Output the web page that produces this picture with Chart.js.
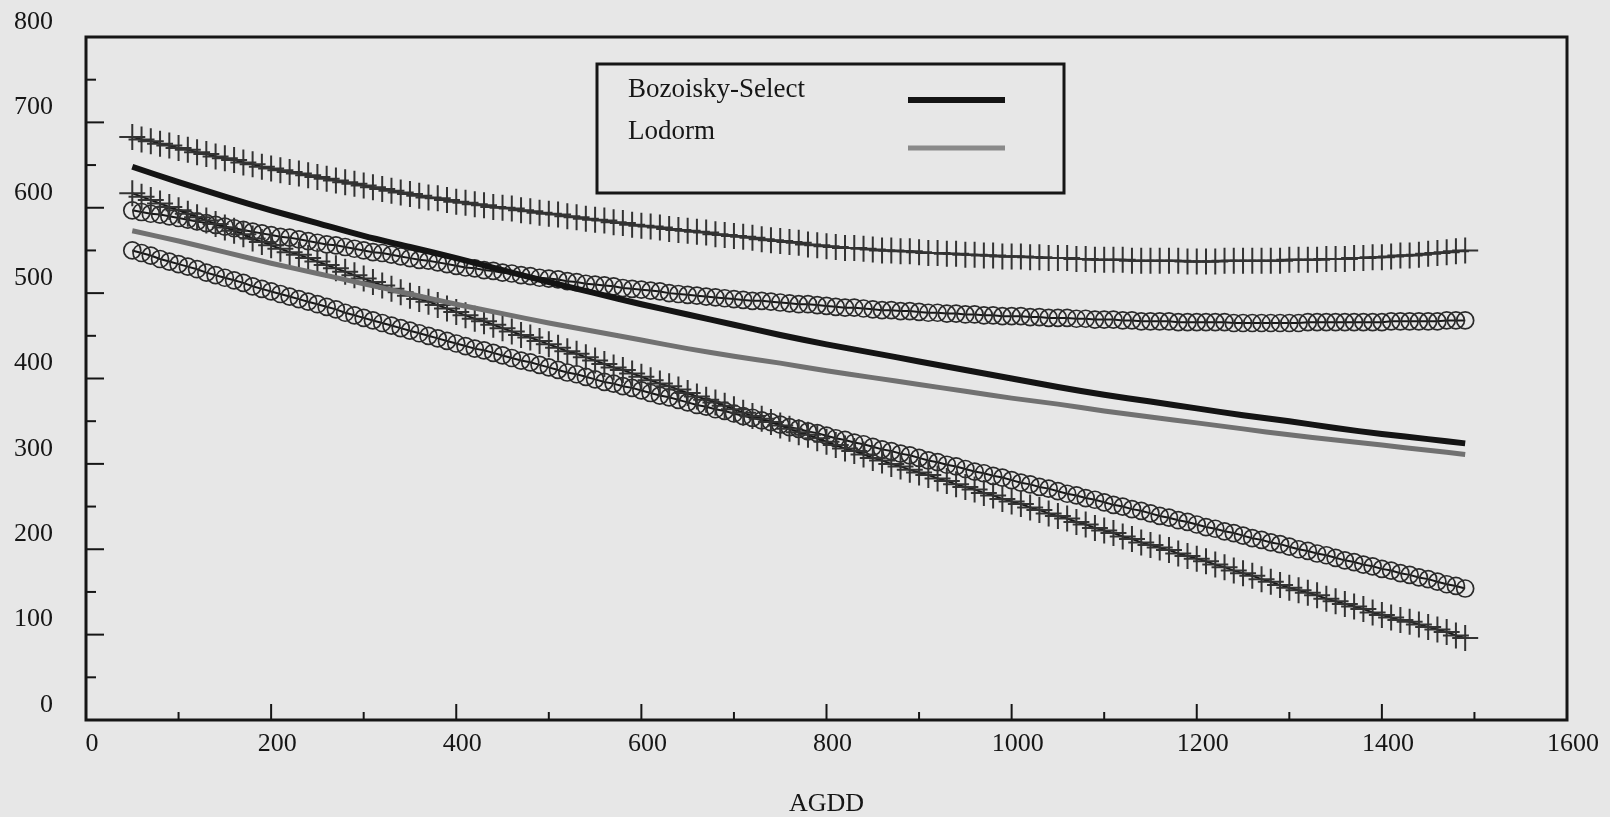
<!DOCTYPE html>
<html>
<head>
<meta charset="utf-8">
<script src="https://cdn.jsdelivr.net/npm/chart.js@4.4.1/dist/chart.umd.min.js"></script>
<style>
  body { margin: 0; background: #e7e7e7; }
  #wrap { width: 1610px; height: 817px; }
</style>
</head>
<body>
<div id="wrap"><canvas id="chart" width="1610" height="817"></canvas></div>
<script>
// AGDD values where the confidence-band markers sit
const agdd = [
  50, 60, 70, 80, 90, 100, 110, 120, 130, 140,
  150, 160, 170, 180, 190, 200, 210, 220, 230, 240,
  250, 260, 270, 280, 290, 300, 310, 320, 330, 340,
  350, 360, 370, 380, 390, 400, 410, 420, 430, 440,
  450, 460, 470, 480, 490, 500, 510, 520, 530, 540,
  550, 560, 570, 580, 590, 600, 610, 620, 630, 640,
  650, 660, 670, 680, 690, 700, 710, 720, 730, 740,
  750, 760, 770, 780, 790, 800, 810, 820, 830, 840,
  850, 860, 870, 880, 890, 900, 910, 920, 930, 940,
  950, 960, 970, 980, 990, 1000, 1010, 1020, 1030, 1040,
  1050, 1060, 1070, 1080, 1090, 1100, 1110, 1120, 1130, 1140,
  1150, 1160, 1170, 1180, 1190, 1200, 1210, 1220, 1230, 1240,
  1250, 1260, 1270, 1280, 1290, 1300, 1310, 1320, 1330, 1340,
  1350, 1360, 1370, 1380, 1390, 1400, 1410, 1420, 1430, 1440,
  1450, 1460, 1470, 1480, 1490
];

// Bozoisky-Select upper / lower band (+ markers)
const bozUpper = [
  683, 680, 678, 675, 673, 670,
  668, 665, 663, 660, 658,
  656, 653, 651, 648, 646,
  644, 642, 640, 638, 636,
  634, 632, 630, 628, 626,
  624, 622, 620, 618, 616,
  614, 612, 611, 609, 607,
  606, 604, 603, 601, 600,
  599, 597, 596, 594, 593,
  592, 590, 589, 587, 586,
  585, 583, 582, 580, 579,
  578, 577, 575, 574, 573,
  572, 571, 569, 568, 567,
  566, 565, 563, 562, 561,
  560, 559, 557, 556, 555,
  554, 553, 553, 552, 551,
  550, 550, 549, 549, 548,
  547, 547, 546, 546, 545,
  545, 544, 544, 543, 543,
  543, 542, 542, 541, 541,
  541, 540, 540, 539, 539,
  539, 539, 538, 538, 538,
  538, 538, 538, 537, 537,
  537, 537, 538, 538, 538,
  538, 538, 538, 538, 539,
  539, 539, 539, 540, 540,
  540, 541, 541, 542, 542,
  543, 544, 544, 545, 546,
  547, 548, 549, 550
];
const bozLower = [
  617, 613, 609, 605, 601, 597,
  593, 589, 585, 581, 577,
  573, 569, 564, 560, 556,
  552, 548, 545, 541, 537,
  533, 529, 525, 521, 517,
  513, 509, 505, 501, 497,
  493, 490, 486, 482, 478,
  474, 470, 467, 463, 459,
  455, 451, 448, 444, 440,
  436, 432, 429, 425, 421,
  417, 413, 410, 406, 402,
  398, 394, 391, 387, 383,
  379, 375, 372, 368, 364,
  360, 356, 353, 349, 345,
  341, 337, 334, 330, 326,
  322, 318, 315, 311, 307,
  304, 300, 297, 293, 290,
  287, 283, 280, 276, 273,
  270, 266, 263, 259, 256,
  253, 249, 246, 242, 239,
  236, 232, 229, 225, 222,
  219, 215, 212, 208, 205,
  202, 199, 195, 192, 189,
  186, 182, 179, 175, 172,
  169, 165, 162, 158, 155,
  152, 149, 146, 142, 139,
  136, 133, 130, 126, 123,
  120, 117, 115, 112, 109,
  106, 103, 99, 96
];

// Lodorm upper / lower band (o markers)
const lodUpper = [
  597, 595, 593, 592, 590, 588,
  586, 584, 582, 580, 578,
  576, 574, 572, 570, 568,
  566, 565, 563, 561, 559,
  557, 556, 554, 552, 550,
  548, 547, 545, 543, 541,
  539, 538, 536, 534, 532,
  530, 529, 527, 526, 524,
  523, 521, 520, 518, 517,
  516, 514, 513, 511, 510,
  509, 508, 506, 505, 504,
  503, 502, 500, 499, 498,
  497, 496, 495, 494, 493,
  492, 491, 491, 490, 489,
  488, 487, 487, 486, 485,
  484, 483, 483, 482, 481,
  480, 480, 479, 479, 478,
  477, 477, 476, 476, 475,
  475, 474, 474, 473, 473,
  473, 472, 472, 471, 471,
  471, 470, 470, 469, 469,
  469, 468, 468, 467, 467,
  467, 467, 466, 466, 466,
  466, 466, 466, 465, 465,
  465, 465, 465, 465, 465,
  465, 466, 466, 466, 466,
  466, 466, 466, 466, 466,
  467, 467, 467, 467, 467,
  467, 468, 468, 468
];
const lodLower = [
  550, 547, 544, 540, 537, 534,
  531, 528, 524, 521, 518,
  515, 512, 508, 505, 502,
  499, 496, 493, 490, 487,
  484, 481, 477, 474, 471,
  468, 465, 462, 459, 456,
  453, 450, 447, 444, 441,
  438, 435, 433, 430, 427,
  424, 421, 419, 416, 413,
  410, 407, 405, 402, 399,
  396, 394, 391, 389, 386,
  383, 380, 378, 375, 372,
  369, 367, 364, 362, 359,
  356, 354, 351, 349, 346,
  343, 341, 338, 336, 333,
  330, 328, 325, 323, 320,
  317, 315, 312, 310, 307,
  304, 302, 299, 297, 294,
  291, 289, 286, 284, 281,
  278, 276, 273, 271, 268,
  265, 263, 260, 258, 255,
  252, 250, 247, 245, 242,
  239, 237, 234, 232, 229,
  226, 224, 221, 219, 216,
  213, 211, 208, 206, 203,
  200, 198, 195, 193, 190,
  187, 185, 182, 180, 177,
  175, 172, 170, 167, 165,
  162, 159, 157, 154
];

// fitted curves
const meanAgdd = [50, 100, 150, 200, 250, 300, 350, 400, 450, 500, 550, 600, 650, 700, 750,
  800, 850, 900, 950, 1000, 1050, 1100, 1150, 1200, 1250, 1300, 1350, 1400, 1450, 1490];
const bozMean = [648, 630, 613, 597, 582, 567, 554, 541, 527, 513, 500, 487, 475, 463, 451,
  440, 430, 420, 410, 400, 390, 381, 373, 365, 357, 350, 342, 335, 329, 324];
const lodMean = [573, 561, 548, 535, 523, 511, 499, 487, 476, 465, 455, 445, 435, 426, 418,
  409, 401, 393, 385, 377, 370, 362, 355, 348, 341, 334, 328, 322, 316, 311];

const seriesNames = ['Bozoisky-Select', 'Lodorm'];
const xMajor = [200, 400, 600, 800, 1000, 1200, 1400];
const xMinor = [100, 300, 500, 700, 900, 1100, 1300, 1500];
const yMajor = [100, 200, 300, 400, 500, 600, 700];
const yMinor = [50, 150, 250, 350, 450, 550, 650, 750];

const ink = '#161616';
const blackLine = '#141414';
const grayLine = '#717171';
const serif = '"Liberation Serif", "Times New Roman", serif';

const pts = (xs, ys) => xs.map((x, i) => ({ x: x, y: ys[i] }));

const paper = {
  id: 'paper',
  beforeDraw(chart) {
    const ctx = chart.ctx;
    ctx.save();
    ctx.fillStyle = '#e7e7e7';
    ctx.fillRect(0, 0, chart.width, chart.height);
    ctx.restore();
  }
};

// frame, inward ticks and the boxed legend
const frame = {
  id: 'frame',
  afterDraw(chart) {
    const ctx = chart.ctx;
    const a = chart.chartArea;
    const sx = chart.scales.x, sy = chart.scales.y;
    ctx.save();
    ctx.strokeStyle = ink;
    ctx.lineWidth = 2;
    yMajor.concat(yMinor).forEach(v => {
      const py = sy.getPixelForValue(v);
      const len = yMajor.includes(v) ? 18 : 10;
      ctx.beginPath(); ctx.moveTo(a.left, py); ctx.lineTo(a.left + len, py); ctx.stroke();
    });
    xMajor.concat(xMinor).forEach(v => {
      const px = sx.getPixelForValue(v);
      const len = xMajor.includes(v) ? 16 : 8;
      ctx.beginPath(); ctx.moveTo(px, a.bottom); ctx.lineTo(px, a.bottom - len); ctx.stroke();
    });
    ctx.lineWidth = 3;
    ctx.strokeRect(a.left, a.top, a.right - a.left, a.bottom - a.top);

    // legend
    ctx.lineWidth = 3;
    ctx.strokeRect(597, 64, 467, 129);
    ctx.fillStyle = '#161616';
    ctx.font = '27px ' + serif;
    ctx.textBaseline = 'alphabetic';
    ctx.fillText(seriesNames[0], 628, 97);
    ctx.fillText(seriesNames[1], 628, 139);
    ctx.lineCap = 'butt';
    ctx.strokeStyle = blackLine; ctx.lineWidth = 6;
    ctx.beginPath(); ctx.moveTo(908, 100); ctx.lineTo(1005, 100); ctx.stroke();
    ctx.strokeStyle = '#8a8a8a'; ctx.lineWidth = 5;
    ctx.beginPath(); ctx.moveTo(908, 148); ctx.lineTo(1005, 148); ctx.stroke();
    ctx.restore();
  }
};

const crossBand = (ys) => ({
  data: pts(agdd, ys),
  showLine: true,
  borderColor: '#161616',
  borderWidth: 2,
  pointStyle: 'cross',
  pointRadius: 13,
  pointBorderColor: '#333333',
  pointBorderWidth: 2,
  pointBackgroundColor: 'rgba(0,0,0,0)',
  tension: 0
});
const circleBand = (ys) => ({
  data: pts(agdd, ys),
  showLine: true,
  borderColor: '#161616',
  borderWidth: 2,
  pointStyle: 'circle',
  pointRadius: 8.5,
  pointBorderColor: '#2a2a2a',
  pointBorderWidth: 1.7,
  pointBackgroundColor: 'rgba(0,0,0,0)',
  tension: 0
});

new Chart(document.getElementById('chart'), {
  type: 'scatter',
  data: {
    datasets: [
      { label: seriesNames[0], data: pts(meanAgdd, bozMean), showLine: true, borderColor: blackLine,
        borderWidth: 6, pointRadius: 0, tension: 0.3, borderCapStyle: 'butt' },
      { label: seriesNames[1], data: pts(meanAgdd, lodMean), showLine: true, borderColor: grayLine,
        borderWidth: 5, pointRadius: 0, tension: 0.3, borderCapStyle: 'butt' },
      crossBand(bozUpper),
      crossBand(bozLower),
      circleBand(lodUpper),
      circleBand(lodLower)
    ]
  },
  options: {
    responsive: false,
    animation: false,
    events: [],
    layout: { padding: { top: 37, right: 43, left: 0, bottom: 0 } },
    plugins: { legend: { display: false }, tooltip: { enabled: false } },
    scales: {
      x: {
        type: 'linear', min: 0, max: 1600,
        grid: { display: false, drawTicks: false },
        border: { display: false },
        ticks: { stepSize: 200, autoSkip: false, maxRotation: 0, padding: 9, labelOffset: 6,
          color: '#161616', font: { family: serif, size: 26 },
          callback: (v) => String(v) },
        title: { display: true, text: 'AGDD', color: '#161616', padding: { top: 0, bottom: 0 },
          font: { family: serif, size: 26, lineHeight: 1 } },
        afterFit(scale) { scale.height = 97; scale.paddingLeft = 0; scale.paddingRight = 0; }
      },
      y: {
        min: 0, max: 800,
        grid: { display: false, drawTicks: false },
        border: { display: false },
        ticks: { stepSize: 100, autoSkip: false, padding: 33, labelOffset: -15,
          color: '#161616', font: { family: serif, size: 26 },
          callback: (v) => String(v) },
        afterFit(scale) { scale.width = 86; scale.paddingTop = 0; scale.paddingBottom = 0; }
      }
    }
  },
  plugins: [paper, frame]
});
</script>
</body>
</html>
